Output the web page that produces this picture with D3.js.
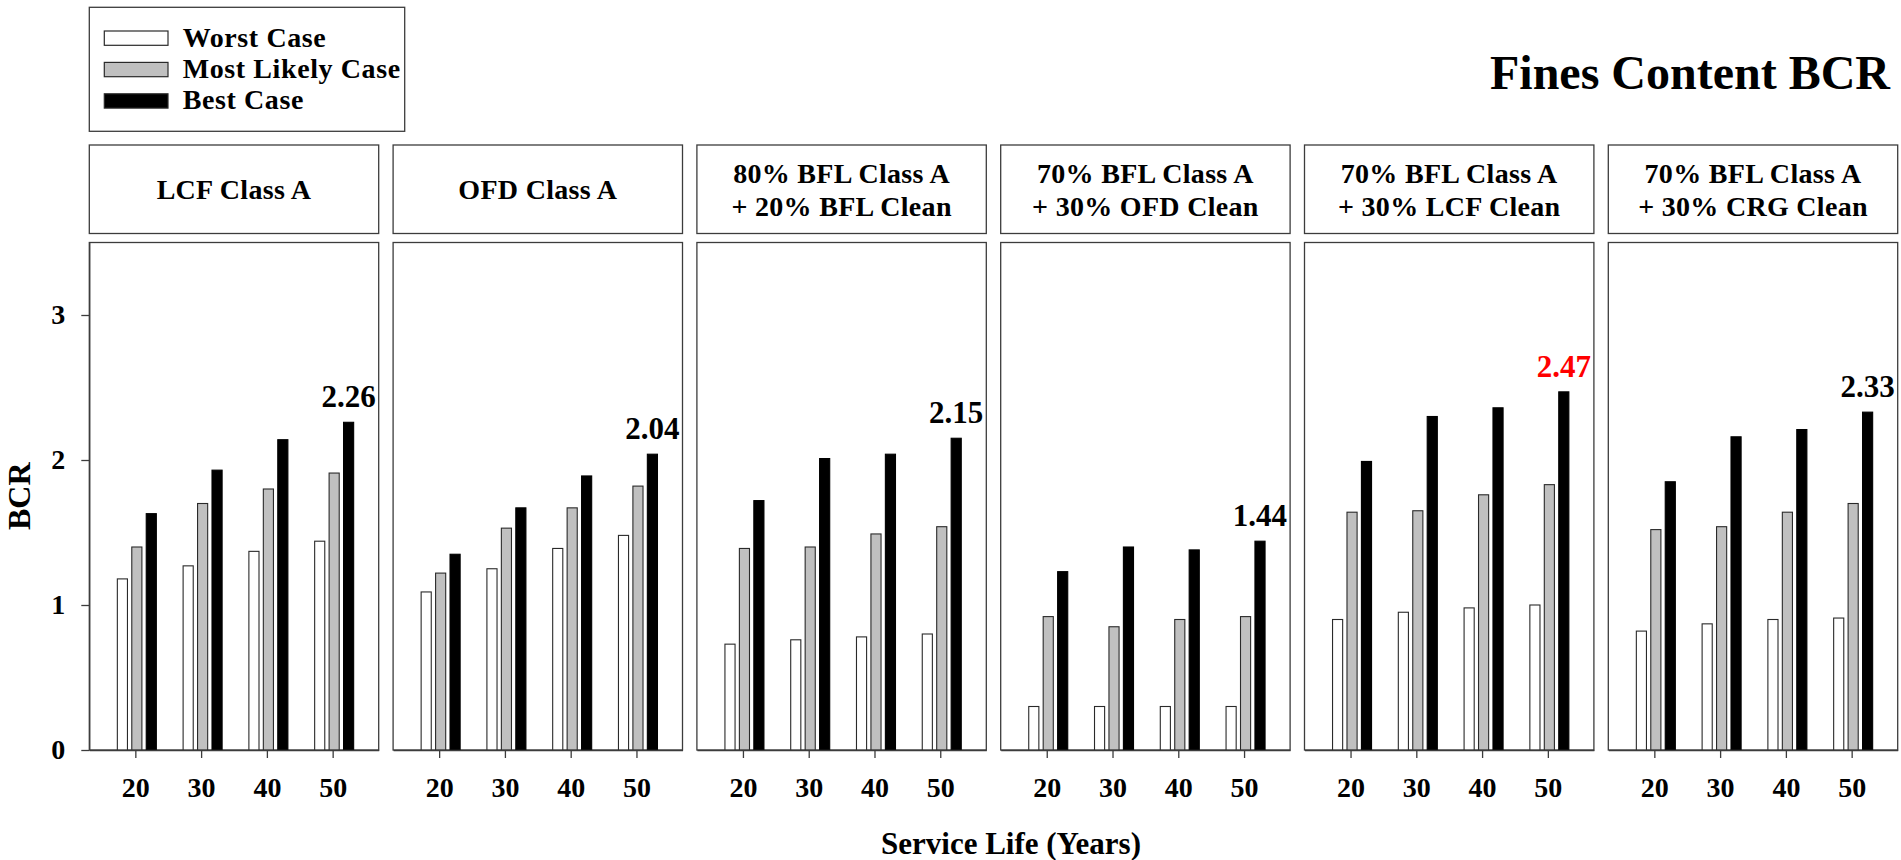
<!DOCTYPE html>
<html>
<head>
<meta charset="utf-8">
<script src="https://cdn.jsdelivr.net/npm/d3@7"></script>
<style>
  html, body { margin: 0; padding: 0; background: #fff; }
  svg { display: block; font-family: "Liberation Serif", "Times New Roman", serif; font-weight: bold; }
</style>
</head>
<body>
<svg id="chart" width="1901" height="860"></svg>
<script>
// Service life (years) on the x axis of each panel
const years = [20, 30, 40, 50];

// Panel headings, one entry per line
const panelTitles = [
  ["LCF Class A"],
  ["OFD Class A"],
  ["80% BFL Class A", "+ 20% BFL Clean"],
  ["70% BFL Class A", "+ 30% OFD Clean"],
  ["70% BFL Class A", "+ 30% LCF Clean"],
  ["70% BFL Class A", "+ 30% CRG Clean"]
];

// Benefit-cost ratio per panel, ordered by service life
const worstCase = [
  [1.18, 1.27, 1.37, 1.44],
  [1.09, 1.25, 1.39, 1.48],
  [0.73, 0.76, 0.78, 0.80],
  [0.30, 0.30, 0.30, 0.30],
  [0.90, 0.95, 0.98, 1.00],
  [0.82, 0.87, 0.90, 0.91]
];
const mostLikelyCase = [
  [1.40, 1.70, 1.80, 1.91],
  [1.22, 1.53, 1.67, 1.82],
  [1.39, 1.40, 1.49, 1.54],
  [0.92, 0.85, 0.90, 0.92],
  [1.64, 1.65, 1.76, 1.83],
  [1.52, 1.54, 1.64, 1.70]
];
const bestCase = [
  [1.63, 1.93, 2.14, 2.26],
  [1.35, 1.67, 1.89, 2.04],
  [1.72, 2.01, 2.04, 2.15],
  [1.23, 1.40, 1.38, 1.44],
  [1.99, 2.30, 2.36, 2.47],
  [1.85, 2.16, 2.21, 2.33]
];

// Panel whose peak value is called out in red
const highlightPanel = 4;

const seriesNames = ["Worst Case", "Most Likely Case", "Best Case"];
const seriesFill = ["#ffffff", "#c0c0c0", "#000000"];
const seriesData = [worstCase, mostLikelyCase, bestCase];
const yTicks = [0, 1, 2, 3];

const svg = d3.select("#chart");
const frame = "#3c3c3c";

// Layout
const panelLeft = 89.3, panelStep = 303.8, panelW = 289.4;
const headTop = 145, headBottom = 233.5;
const plotTop = 242.5, plotBottom = 750;

const y = d3.scaleLinear().domain([0, 3.5]).range([plotBottom, plotTop]);
const x = d3.scalePoint().domain(years).range([0, panelW]).padding(0.7);
const series = d3.scaleBand().domain(d3.range(3)).range([-19.5 + 1.5, 19.5 + 1.5]).paddingInner(0.3);

panelTitles.forEach((title, p) => {
  const g = svg.append("g").attr("transform", `translate(${panelLeft + p * panelStep},0)`);

  // heading box
  g.append("rect")
    .attr("x", 0).attr("y", headTop)
    .attr("width", panelW).attr("height", headBottom - headTop)
    .attr("fill", "#fff").attr("stroke", frame).attr("stroke-width", 1.3);
  const midY = (headTop + headBottom) / 2;
  const lineH = 33;
  g.append("text")
    .attr("text-anchor", "middle")
    .attr("font-size", 28)
    .attr("letter-spacing", 0.3)
    .selectAll("tspan")
    .data(title)
    .join("tspan")
    .attr("x", panelW / 2)
    .attr("y", (d, i) => midY + (i - (title.length - 1) / 2) * lineH)
    .attr("dy", "0.35em")
    .text(d => d);

  // plot frame
  g.append("rect")
    .attr("x", 0).attr("y", plotTop)
    .attr("width", panelW).attr("height", plotBottom - plotTop)
    .attr("fill", "#fff").attr("stroke", frame).attr("stroke-width", 1.3);

  // bars
  seriesData.forEach((arr, s) => {
    g.append("g").selectAll("rect")
      .data(arr[p])
      .join("rect")
      .attr("x", (d, i) => x(years[i]) + series(s))
      .attr("y", d => y(d))
      .attr("width", series.bandwidth())
      .attr("height", d => y(0) - y(d))
      .attr("fill", seriesFill[s])
      .attr("stroke", s === 2 ? "#000" : "#2a2a2a")
      .attr("stroke-width", 1.1);
  });

  // peak label on the 50-year best case bar
  const peak = bestCase[p][years.length - 1];
  g.append("text")
    .attr("x", x(years[years.length - 1]) + series(2) + series.bandwidth() / 2)
    .attr("y", y(peak) - 15)
    .attr("text-anchor", "middle")
    .attr("font-size", 31)
    .attr("fill", p === highlightPanel ? "#ff0000" : "#000")
    .text(peak.toFixed(2));

  // x axis
  const xa = g.append("g")
    .attr("transform", `translate(0,${plotBottom})`)
    .call(d3.axisBottom(x).tickSize(8).tickSizeOuter(0).tickPadding(19));
  xa.select(".domain").attr("stroke", frame).attr("stroke-width", 1.3);
  xa.selectAll(".tick line").attr("stroke", frame).attr("stroke-width", 1.3);
  xa.selectAll(".tick text")
    .attr("font-family", "Liberation Serif, serif")
    .attr("font-weight", "bold")
    .attr("font-size", 28)
    .attr("fill", "#000");

  // y axis on the first panel only
  if (p === 0) {
    const ya = g.append("g")
      .call(d3.axisLeft(y).tickValues(yTicks).tickFormat(d3.format("d")).tickSize(8).tickSizeOuter(0).tickPadding(16));
    ya.select(".domain").attr("stroke", frame).attr("stroke-width", 1.3);
    ya.selectAll(".tick line").attr("stroke", frame).attr("stroke-width", 1.3);
    ya.selectAll(".tick text")
      .attr("font-family", "Liberation Serif, serif")
      .attr("font-weight", "bold")
      .attr("font-size", 28)
      .attr("fill", "#000");
  }
});

// y axis title
svg.append("text")
  .attr("transform", `translate(30,${(plotTop + plotBottom) / 2}) rotate(-90)`)
  .attr("text-anchor", "middle")
  .attr("font-size", 32)
  .text("BCR");

// x axis title
svg.append("text")
  .attr("x", 1011)
  .attr("y", 854)
  .attr("text-anchor", "middle")
  .attr("font-size", 31)
  .text("Service Life (Years)");

// chart title
svg.append("text")
  .attr("x", 1890)
  .attr("y", 89)
  .attr("text-anchor", "end")
  .attr("font-size", 48)
  .text("Fines Content BCR");

// legend
const legend = svg.append("g");
legend.append("rect")
  .attr("x", 89.3).attr("y", 7.3)
  .attr("width", 315.4).attr("height", 124)
  .attr("fill", "#fff").attr("stroke", frame).attr("stroke-width", 1.3);
const legendRows = legend.selectAll("g.row")
  .data(seriesNames)
  .join("g")
  .attr("class", "row")
  .attr("transform", (d, i) => `translate(104.3,${31 + i * 31.4})`);
legendRows.append("rect")
  .attr("width", 63.7).attr("height", 14.3)
  .attr("fill", (d, i) => seriesFill[i])
  .attr("stroke", "#2a2a2a").attr("stroke-width", 1.2);
legendRows.append("text")
  .attr("x", 78.4)
  .attr("y", 15.5)
  .attr("font-size", 28)
  .attr("letter-spacing", 0.6)
  .text(d => d);
</script>
</body>
</html>
